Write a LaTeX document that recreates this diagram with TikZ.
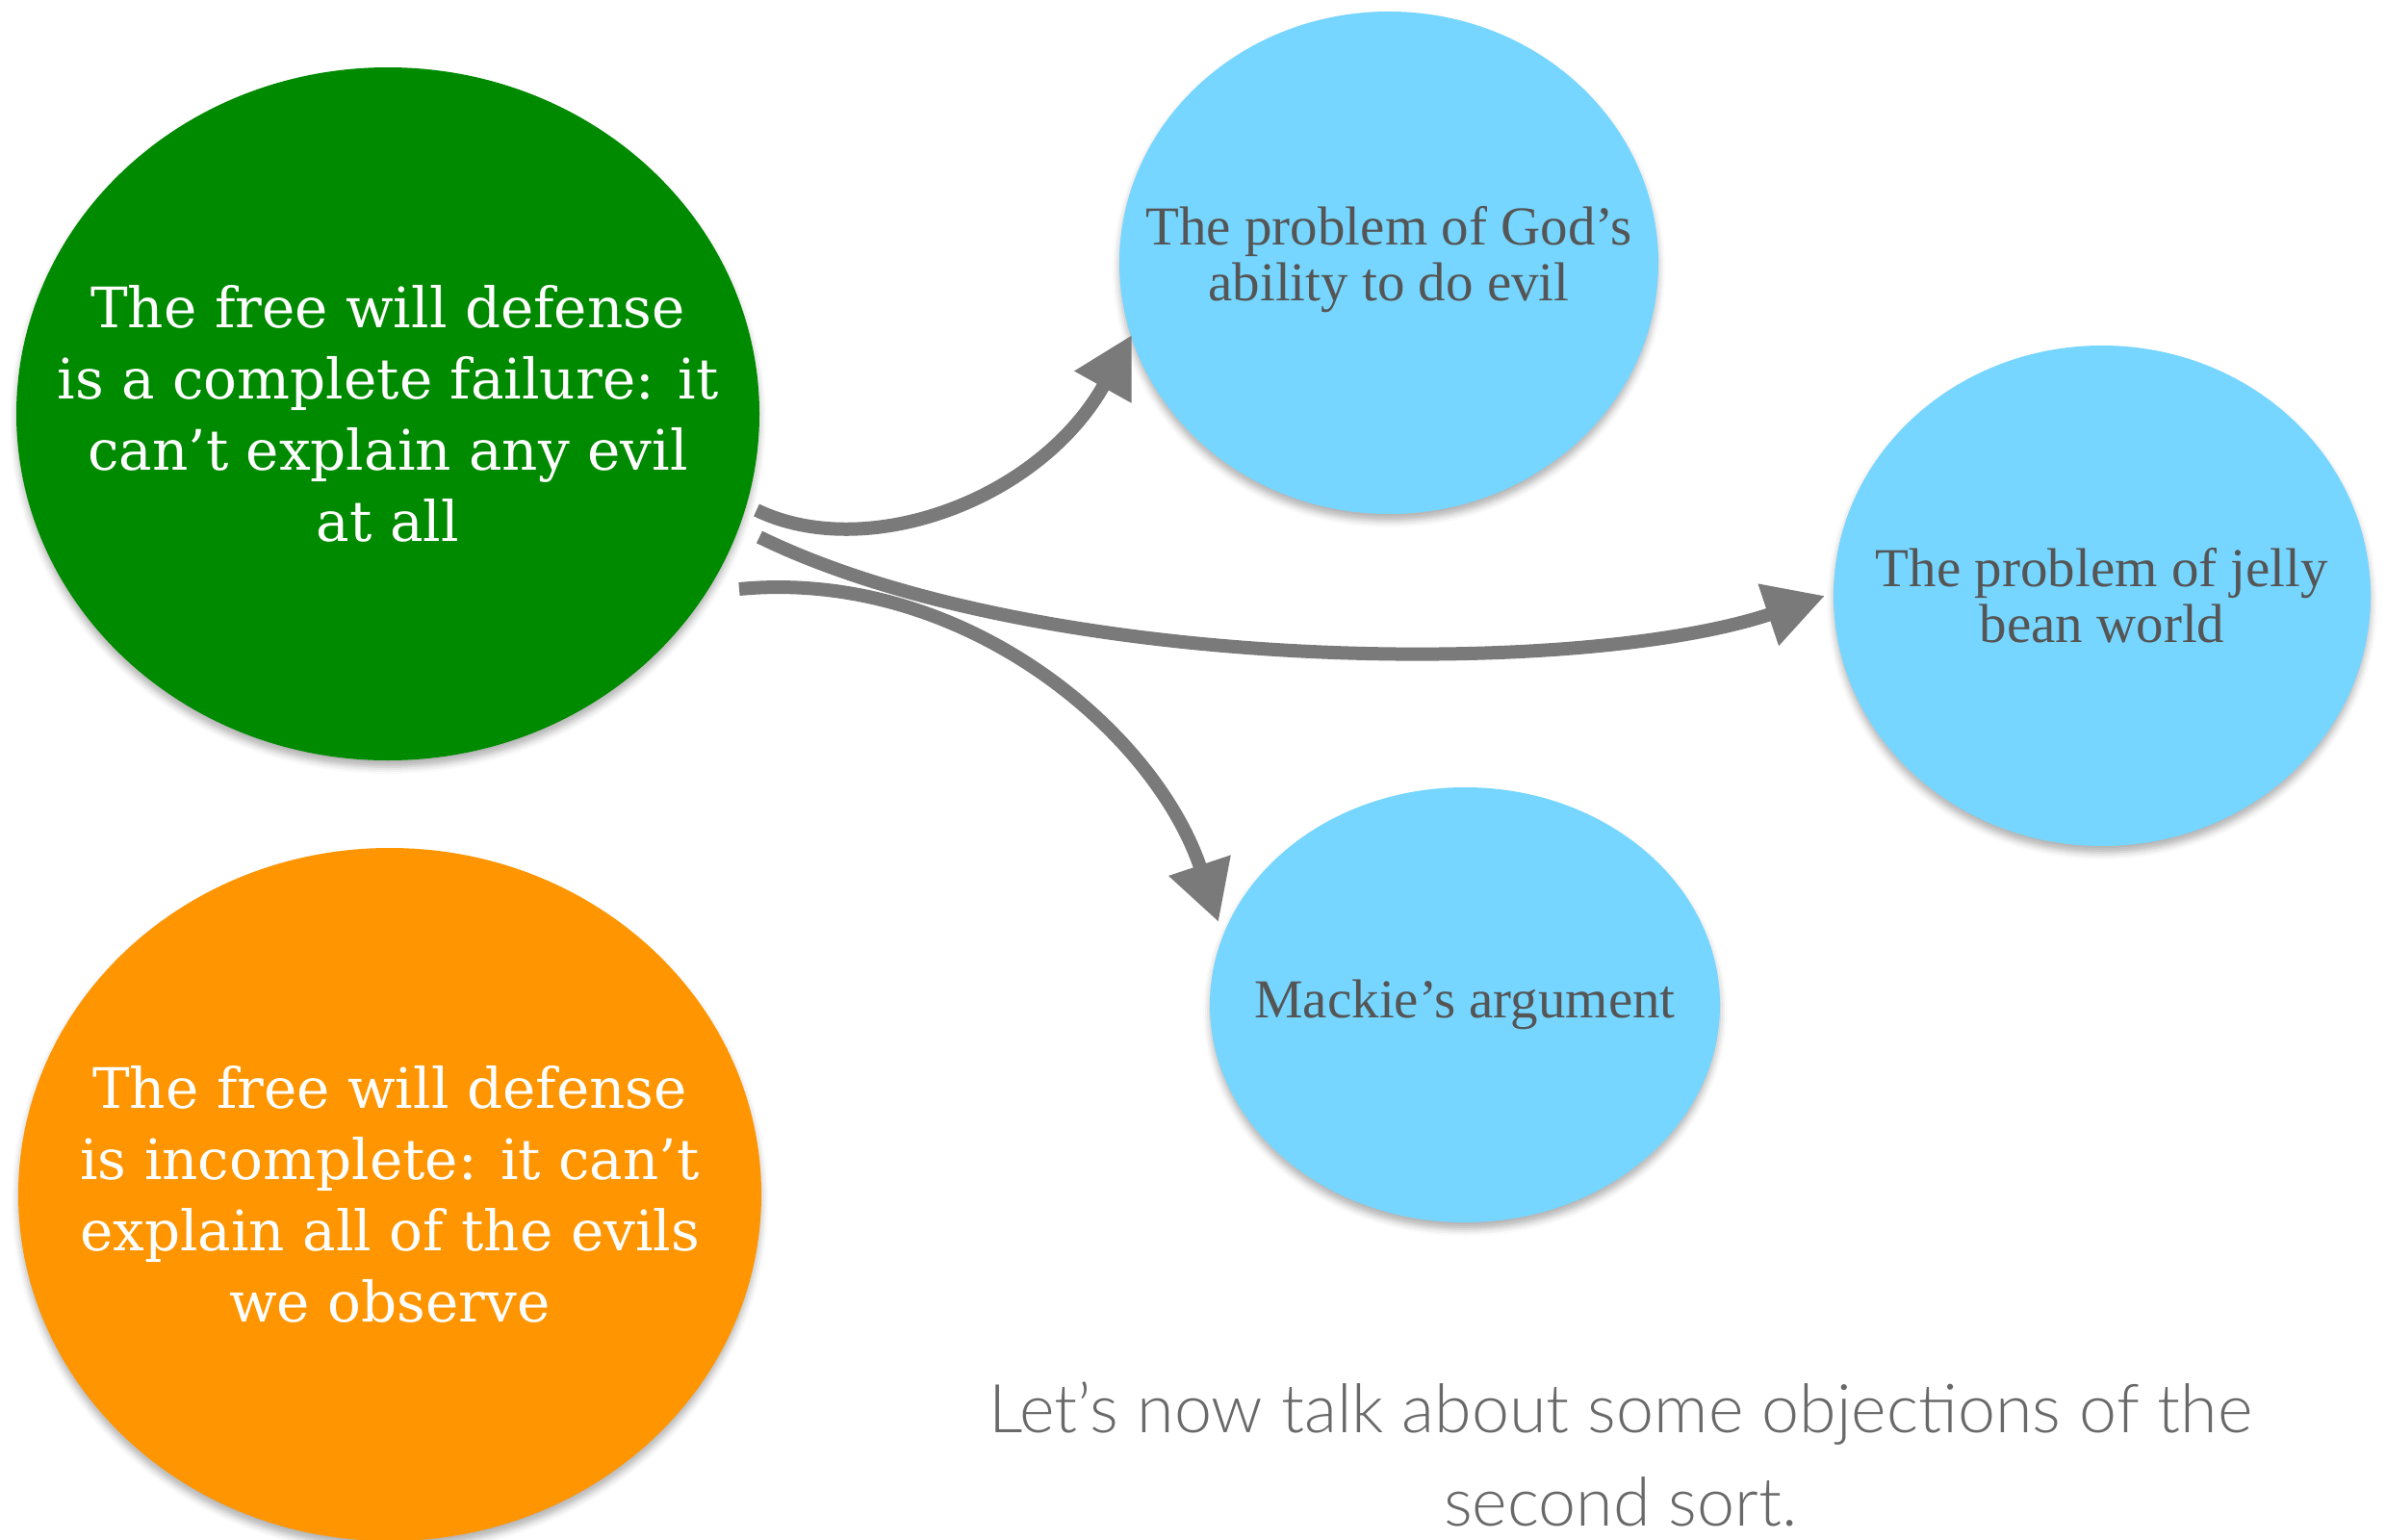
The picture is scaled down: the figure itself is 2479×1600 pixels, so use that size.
\documentclass[tikz,border=0pt]{standalone}
\usepackage{fontspec}
\setmainfont{Liberation Serif}
\newfontfamily\slabfont{DejaVu Serif}
\newfontfamily\captionfont{Lato Light}
\usetikzlibrary{shapes.geometric,arrows.meta,shadows.blur}

\definecolor{failgreen}{RGB}{0,138,0}
\definecolor{partorange}{RGB}{255,149,0}
\definecolor{objblue}{RGB}{118,214,255}
\definecolor{objtext}{RGB}{85,85,85}
\definecolor{linkgray}{RGB}{122,122,122}
\definecolor{notegray}{RGB}{105,105,105}

\tikzset{
  blob/.style={ellipse, inner sep=0pt, draw=none,
    blur shadow={shadow xshift=0pt, shadow yshift=-7pt,
      shadow blur radius=7pt, shadow opacity=30}},
  claimtext/.style={align=center, text=white,
    font=\slabfont\fontsize{58}{74}\selectfont},
  objtextstyle/.style={align=center, text=objtext,
    font=\fontsize{57}{58}\selectfont},
  link/.style={draw=linkgray, line width=14pt,
    -{Triangle[length=62pt,width=64pt]}},
}

\begin{document}
\begin{tikzpicture}[x=1pt,y=-1pt]
\useasboundingbox (0,0) rectangle (2479,1600);

% claim ellipses
\node[blob, fill=failgreen, minimum width=772pt, minimum height=720pt] (fail) at (403,430) {};
\node[blob, fill=partorange, minimum width=772pt, minimum height=720pt] (part) at (405,1241) {};

% objection ellipses
\node[blob, fill=objblue, minimum width=560pt, minimum height=522pt] (god) at (1443,273) {};
\node[blob, fill=objblue, minimum width=558pt, minimum height=520pt] (jelly) at (2184,619) {};
\node[blob, fill=objblue, minimum width=530pt, minimum height=452pt] (mackie) at (1522,1044) {};

% texts
\node[claimtext] (failtext) at (fail.center) {The free will defense\\is a complete failure: it\\can’t explain any evil\\at all};
\node[claimtext] (parttext) at (part.center) {The free will defense\\is incomplete: it can’t\\explain all of the evils\\we observe};
\node[objtextstyle] (godtext) at ([yshift=3pt]god.center) {The problem of God’s\\ability to do evil};
\node[objtextstyle] (jellytext) at (jelly.center) {The problem of jelly\\bean world};
\node[objtextstyle] (mackietext) at (mackie.center) {Mackie’s argument};

\node[align=center, text=notegray, font=\captionfont\fontsize{70}{97}\selectfont] (note) at (1684,1511)
  {Let’s now talk about some objections of the\\second sort.};

% connector end points
\coordinate (s1) at (786,530);
\coordinate (t1) at (1176,348);
\coordinate (s2) at (789,558);
\coordinate (t2) at (1896,619);
\coordinate (s3) at (768,612);
\coordinate (t3) at (1266,958);

\draw[link] (s1) .. controls (900,585) and (1080,520) .. (t1);
\draw[link] (s2) .. controls (1080,700) and (1640,705) .. (t2);
\draw[link] (s3) .. controls (1000,590) and (1200,760) .. (t3);
\end{tikzpicture}
\end{document}
